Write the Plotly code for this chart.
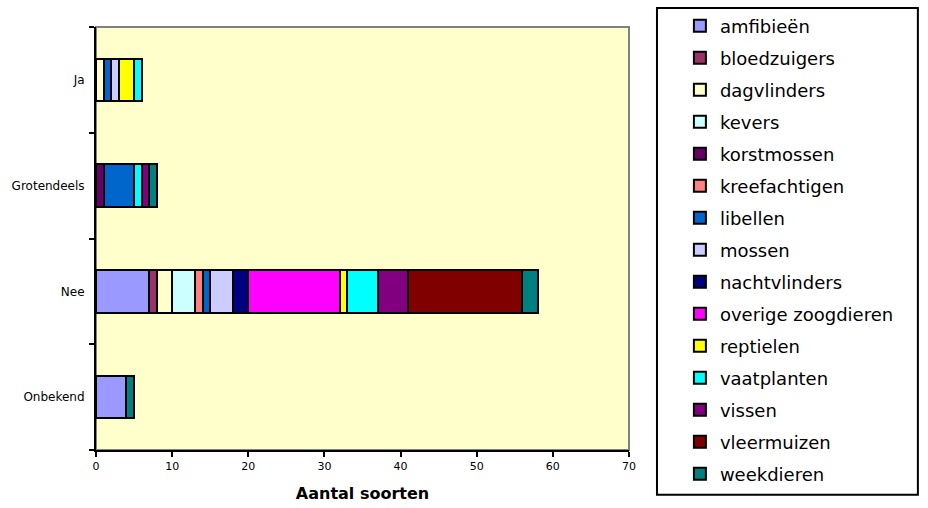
import plotly.graph_objects as go

categories = ["Onbekend", "Nee", "Grotendeels", "Ja"]

series_names = ["amfibieën", "bloedzuigers", "dagvlinders", "kevers", "korstmossen",
                "kreefachtigen", "libellen", "mossen", "nachtvlinders", "overige zoogdieren",
                "reptielen", "vaatplanten", "vissen", "vleermuizen", "weekdieren"]

# values per category in order: Onbekend, Nee, Grotendeels, Ja
amfibieen = [4, 7, 0, 0]
bloedzuigers = [0, 1, 0, 0]
dagvlinders = [0, 2, 0, 1]
kevers = [0, 3, 0, 0]
korstmossen = [0, 0, 1, 0]
kreefachtigen = [0, 1, 0, 0]
libellen = [0, 1, 4, 1]
mossen = [0, 3, 0, 1]
nachtvlinders = [0, 2, 0, 0]
overige_zoogdieren = [0, 12, 0, 0]
reptielen = [0, 1, 0, 2]
vaatplanten = [0, 4, 1, 1]
vissen = [0, 4, 1, 0]
vleermuizen = [0, 15, 0, 0]
weekdieren = [1, 2, 1, 0]

series_values = [amfibieen, bloedzuigers, dagvlinders, kevers, korstmossen, kreefachtigen,
                 libellen, mossen, nachtvlinders, overige_zoogdieren, reptielen, vaatplanten,
                 vissen, vleermuizen, weekdieren]

colors = ["#9999FF", "#993366", "#FFFFCC", "#CCFFFF", "#660066", "#FF8080", "#0066CC",
          "#CCCCFF", "#000080", "#FF00FF", "#FFFF00", "#00FFFF", "#800080", "#800000", "#008080"]

x_ticks = [0, 10, 20, 30, 40, 50, 60, 70]

fig = go.Figure()
for name, vals, col in zip(series_names, series_values, colors):
    fig.add_trace(go.Bar(
        y=categories,
        x=[v if v else None for v in vals],
        name=name,
        orientation="h",
        legendgroup=name,
        marker=dict(color=col, line=dict(color="black", width=2)),
    ))

font_family = "DejaVu Sans, Verdana, sans-serif"

fig.update_layout(
    barmode="stack",
    bargap=0.6,
    width=928, height=508,
    margin=dict(l=96, r=299, t=27, b=58, autoexpand=False),
    paper_bgcolor="white",
    plot_bgcolor="#FFFFCC",
    font=dict(family=font_family, color="black"),
    xaxis=dict(
        range=[0, 70], tickvals=x_ticks, showgrid=False, zeroline=False,
        showline=True, linecolor="black", linewidth=2,
        ticks="outside", ticklen=5, tickwidth=1.5, tickcolor="black",
        tickfont=dict(size=11, family=font_family),
        title=dict(text="<b>Aantal soorten</b>", font=dict(size=16, family=font_family), standoff=16),
    ),
    yaxis=dict(
        categoryorder="array", categoryarray=categories,
        showgrid=False, zeroline=False,
        showline=True, linecolor="black", linewidth=2,
        ticks="outside", ticklen=5, tickwidth=1.5, tickcolor="black",
        tickson="boundaries", ticklabelstandoff=7,
        tickfont=dict(size=12, family=font_family),
    ),
    legend=dict(
        x=1.0955, y=1.046, xanchor="left", yanchor="top",
        traceorder="grouped", tracegroupgap=5.6,
        maxheight=1,
        font=dict(size=18, family=font_family),
        bgcolor="rgba(0,0,0,0)", borderwidth=0,
    ),
    shapes=[
        dict(type="rect", xref="paper", yref="paper", x0=0, x1=1, y0=0, y1=1,
             line=dict(color="#808080", width=2), layer="below"),
        dict(type="rect", xref="paper", yref="paper", x0=1.0525, x1=1.542, y0=-0.106, y1=1.045,
             line=dict(color="black", width=2)),
    ],
)

fig.write_html("out.html")
